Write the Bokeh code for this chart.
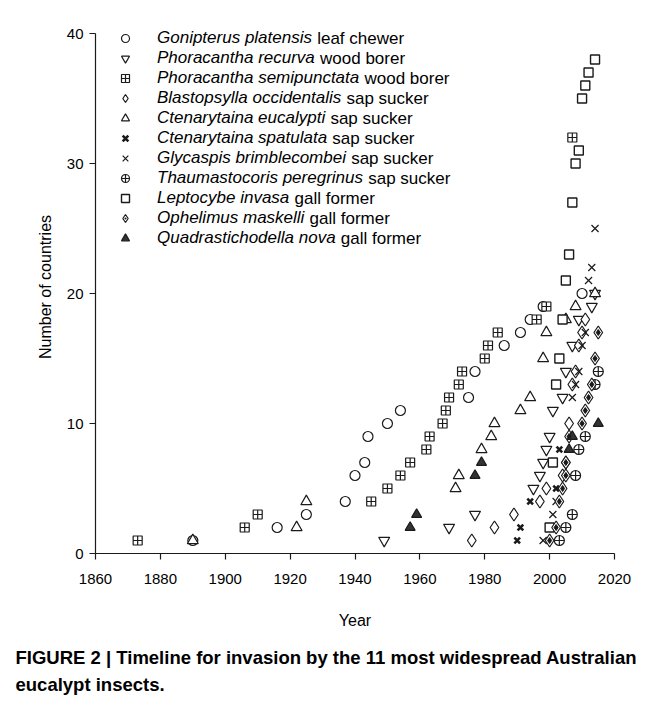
from bokeh.plotting import figure
from bokeh.models import Legend, LegendItem, Label, FixedTicker, Range1d, Title
from bokeh.embed import file_html
from bokeh.resources import INLINE

# ---------------- data (year of first record, cumulative number of countries) ----------
gonipterus_year = [1890, 1916, 1925, 1937, 1940, 1943, 1944, 1950, 1954, 1975, 1977, 1986, 1991, 1994, 1998, 2010]
gonipterus_n = [1, 2, 3, 4, 6, 7, 9, 10, 11, 12, 14, 16, 17, 18, 19, 20]

recurva_year = [1949, 1969, 1977, 1995, 1997, 1998, 1999, 2000, 2001, 2004, 2005, 2007, 2009, 2013, 2014]
recurva_n = [1, 2, 3, 5, 6, 7, 8, 9, 11, 12, 14, 16, 18, 19, 20]

semipunctata_year = [1873, 1906, 1910, 1945, 1950, 1954, 1957, 1962, 1963, 1967, 1968, 1969, 1972, 1973,
                     1980, 1981, 1984, 1996, 1999, 2007]
semipunctata_n = [1, 2, 3, 4, 5, 6, 7, 8, 9, 10, 11, 12, 13, 14, 15, 16, 17, 18, 19, 32]

blastopsylla_year = [1976, 1983, 1989, 1997, 1999, 2004, 2005, 2006, 2007, 2008, 2009, 2010, 2011]
blastopsylla_n = [1, 2, 3, 4, 5, 6, 7, 10, 13, 14, 16, 17, 18]

eucalypti_year = [1890, 1922, 1925, 1971, 1972, 1979, 1982, 1983, 1991, 1994, 1998, 1999, 2005, 2008, 2014]
eucalypti_n = [1, 2, 4, 5, 6, 8, 9, 10, 11, 12, 15, 17, 18, 19, 20]

spatulata_year = [1990, 1991, 1994, 2002, 2003]
spatulata_n = [1, 2, 4, 5, 8]

glycaspis_year = [1998, 2001, 2002, 2007, 2008, 2009, 2010, 2011, 2012, 2013, 2014]
glycaspis_n = [1, 3, 4, 12, 13, 14, 16, 17, 21, 22, 25]

thaumastocoris_year = [2003, 2005, 2007, 2008, 2009, 2011, 2014, 2015]
thaumastocoris_n = [1, 2, 3, 6, 8, 9, 13, 14]

leptocybe_year = [2000, 2001, 2002, 2003, 2004, 2005, 2006, 2007, 2008, 2009, 2010, 2011, 2012, 2014]
leptocybe_n = [2, 7, 13, 15, 18, 21, 23, 27, 30, 31, 35, 36, 37, 38]

ophelimus_year = [2000, 2002, 2003, 2004, 2005, 2005, 2006, 2010, 2011, 2012, 2013, 2014, 2015]
ophelimus_n = [1, 2, 4, 5, 6, 7, 9, 10, 11, 12, 13, 15, 17]

quadrastichodella_year = [1957, 1959, 1977, 1979, 2006, 2007, 2015]
quadrastichodella_n = [2, 3, 6, 7, 8, 9, 10]

species_names = ["Gonipterus platensis", "Phoracantha recurva", "Phoracantha semipunctata",
                 "Blastopsylla occidentalis", "Ctenarytaina eucalypti", "Ctenarytaina spatulata",
                 "Glycaspis brimblecombei", "Thaumastocoris peregrinus", "Leptocybe invasa",
                 "Ophelimus maskelli", "Quadrastichodella nova"]
guild_names = ["leaf chewer", "wood borer", "wood borer", "sap sucker", "sap sucker", "sap sucker",
               "sap sucker", "sap sucker", "gall former", "gall former", "gall former"]

x_ticks = [1860, 1880, 1900, 1920, 1940, 1960, 1980, 2000, 2020]
y_ticks = [0, 10, 20, 30, 40]

caption_1 = "FIGURE 2 | Timeline for invasion by the 11 most widespread Australian"
caption_2 = "eucalypt insects."

# ---------------- styling ----------------
FONT = "Liberation Sans"
INK = "#1a1a1a"

series = [
    (gonipterus_year, gonipterus_n, dict(marker="circle", size=10, fill_color="white", line_width=1.2)),
    (recurva_year, recurva_n, dict(marker="inverted_triangle", size=11, fill_color="white", line_width=1.2)),
    (semipunctata_year, semipunctata_n, dict(marker="square_cross", size=9, fill_color="white", line_width=1.2)),
    (blastopsylla_year, blastopsylla_n, dict(marker="diamond", size=13, fill_color="white", line_width=1.2)),
    (eucalypti_year, eucalypti_n, dict(marker="triangle", size=11, fill_color="white", line_width=1.2)),
    (spatulata_year, spatulata_n, dict(marker="x", size=8, fill_color=None, line_width=2.6)),
    (glycaspis_year, glycaspis_n, dict(marker="x", size=10, fill_color=None, line_width=1.2)),
    (thaumastocoris_year, thaumastocoris_n, dict(marker="circle_cross", size=10, fill_color="white", line_width=1.2)),
    (leptocybe_year, leptocybe_n, dict(marker="square", size=9, fill_color="white", line_width=1.4)),
    (ophelimus_year, ophelimus_n, dict(marker="diamond_dot", size=13, fill_color="white", line_width=1.2)),
    (quadrastichodella_year, quadrastichodella_n, dict(marker="triangle", size=10, fill_color="#333333", line_width=1.2)),
]

W, H = 656, 708
FL, FT, FW, FH = 95, 20, 519, 533

p = figure(width=W, height=H, output_backend="svg", toolbar_location=None,
           x_range=Range1d(1860, 2020), y_range=Range1d(0, 41),
           min_border_left=FL, min_border_top=FT, min_border_right=W - FL - FW,
           min_border_bottom=H - FT - FH)
p.outline_line_color = None
p.background_fill_color = "white"
p.border_fill_color = "white"
p.xgrid.grid_line_color = None
p.ygrid.grid_line_color = None

for ax in (p.xaxis[0], p.yaxis[0]):
    ax.axis_line_color = INK
    ax.axis_line_width = 1.2
    ax.major_tick_line_color = INK
    ax.major_tick_line_width = 1.2
    ax.major_tick_in = 0
    ax.major_tick_out = 6
    ax.minor_tick_line_color = None
    ax.major_label_text_font = FONT
    ax.major_label_text_font_size = "15px"
    ax.major_label_text_color = "black"
    ax.axis_label_text_font = FONT
    ax.axis_label_text_font_size = "16px"
    ax.axis_label_text_font_style = "normal"
    ax.axis_label_text_color = "black"

p.xaxis[0].ticker = FixedTicker(ticks=x_ticks)
p.yaxis[0].ticker = FixedTicker(ticks=y_ticks)
p.yaxis[0].bounds = (0, 40)
p.xaxis[0].axis_label = "Year"
p.yaxis[0].axis_label = "Number of countries"
p.xaxis[0].major_label_standoff = 14
p.xaxis[0].axis_label_standoff = 25
p.yaxis[0].major_label_standoff = 6
p.yaxis[0].axis_label_standoff = 10

renderers = []
for xs, ys, st in series:
    r = p.scatter(x=xs, y=ys, line_color=INK, **st)
    renderers.append(r)
# larger dark centre of the Ophelimus maskelli marker (plot only)
p.scatter(x=ophelimus_year, y=ophelimus_n, marker="diamond", size=6, fill_color=INK, line_color=INK)

# ---------------- legend (italic species names + plain guild) ----------------
LEG_FONT_PX = 17
ROW, GLYPH_W, STANDOFF = 20, 20, 22
LEG_X, LEG_TOP = 20, 525

legend = Legend(items=[LegendItem(label=n, renderers=[r]) for n, r in zip(species_names, renderers)],
                location=(LEG_X, LEG_TOP - ROW * len(species_names)), orientation="vertical",
                glyph_width=GLYPH_W, glyph_height=ROW, label_height=ROW, spacing=0,
                padding=0, margin=0, label_standoff=STANDOFF,
                label_text_font=FONT, label_text_font_style="italic",
                label_text_font_size=f"{LEG_FONT_PX}px", label_text_color="black",
                border_line_color=None, background_fill_alpha=0)
p.add_layout(legend)

# Arial / Liberation Sans advance widths (per 1000 em)
AW = {" ": 278, "a": 556, "b": 556, "c": 500, "d": 556, "e": 556, "f": 278, "g": 556, "h": 556,
      "i": 222, "j": 222, "k": 500, "l": 222, "m": 833, "n": 556, "o": 556, "p": 556, "q": 556,
      "r": 333, "s": 500, "t": 278, "u": 556, "v": 500, "w": 722, "x": 500, "y": 500, "z": 500,
      "B": 667, "C": 722, "G": 778, "L": 556, "O": 778, "P": 667, "Q": 778, "T": 611}


def text_w(s, px):
    return sum(AW.get(c, 556) for c in s) * px / 1000.0


for i, (n, g) in enumerate(zip(species_names, guild_names)):
    x0 = LEG_X + GLYPH_W + STANDOFF + text_w(n + " ", LEG_FONT_PX)
    yc = LEG_TOP - ROW / 2 - ROW * i
    p.add_layout(Label(x=x0, y=yc, x_units="screen", y_units="screen", text=g,
                       text_font=FONT, text_font_size=f"{LEG_FONT_PX}px", text_color="black",
                       text_baseline="middle", text_align="left"))

# ---------------- caption ----------------
cap = Title(text=caption_1 + "\n" + caption_2, align="left", offset=-80, standoff=26,
            text_font=FONT, text_font_size="18.5px", text_font_style="bold", text_color="black",
            text_line_height=1.31)
p.add_layout(cap, "below")

p.styles = {"outline": "1px solid #555", "outline-offset": "-2px"}

open("out.html", "w").write(file_html(p, INLINE))
